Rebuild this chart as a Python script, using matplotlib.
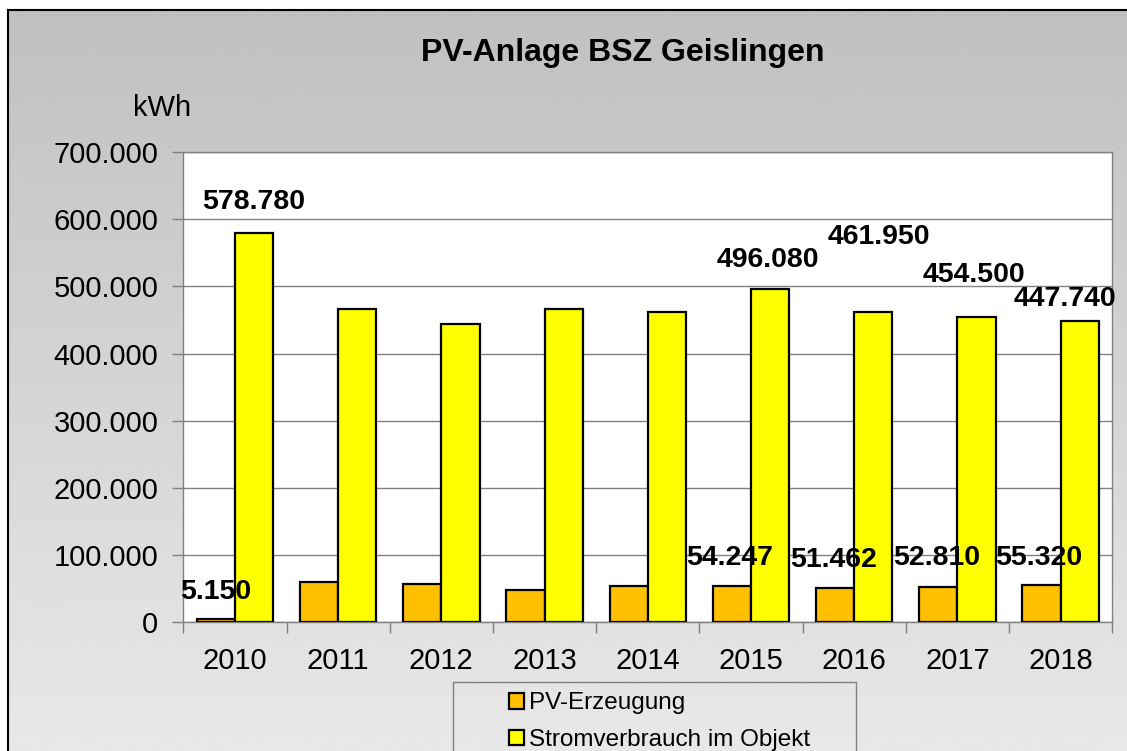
import numpy as np
import matplotlib
matplotlib.use("Agg")
import matplotlib.pyplot as plt
from matplotlib.patches import Patch, Rectangle
from matplotlib.ticker import FuncFormatter, FixedLocator

plt.rcParams["font.family"] = ["Liberation Sans", "DejaVu Sans"]

years = ["2010", "2011", "2012", "2013", "2014", "2015", "2016", "2017", "2018"]
pv_erzeugung = [5150, 60200, 56800, 47800, 53500, 54247, 51462, 52810, 55320]
stromverbrauch = [578780, 467000, 443500, 466000, 462500, 496080, 461950, 454500, 447740]
labeled_years = ["2010", "2015", "2016", "2017", "2018"]

W, H = 1127, 751
ORANGE = "#FFC000"
YELLOW = "#FFFF00"
GRID = "#808080"

# Beschriftungen: Versatz in Pixel (dx, dy über Balkenoberkante), wie im Original verschoben
pv_offsets = {"2010": (0, 27), "2015": (-2, 28), "2016": (-2, 28), "2017": (-2, 29), "2018": (-3, 27)}
sv_offsets = {"2010": (0, 31), "2015": (-2, 29), "2016": (6, 75), "2017": (-3, 42), "2018": (-15, 22)}

fig = plt.figure(figsize=(W / 100, H / 100), dpi=100)

# Hintergrund mit Verlauf
bg = fig.add_axes([0, 0, 1, 1], zorder=-5)
bg.set_xlim(0, W)
bg.set_ylim(H, 0)
bg.axis("off")
grad = np.linspace(192, 232, 256).reshape(-1, 1) / 255.0
bg.imshow(np.repeat(grad, 2, axis=1), cmap="gray", vmin=0, vmax=1, aspect="auto",
          extent=(8, W + 2, H + 2, 10), interpolation="bilinear")
bg.plot([8, 8], [H + 2, 10], color="black", lw=1.5)
bg.plot([8, W + 2], [10, 10], color="black", lw=1.5)

# Legendenrahmen (unten abgeschnitten)
bg.add_patch(Rectangle((453, 682), 856 - 453, 100, fill=False, edgecolor="#808080", lw=1))

ax = fig.add_axes([183.3 / W, 1 - 622.3 / H, (1112.3 - 183.3) / W, (622.3 - 152) / H])
ax.set_facecolor("white")

x = np.arange(len(years))
bw = 0.37
b1 = ax.bar(x - bw / 2, pv_erzeugung, bw, color=ORANGE, edgecolor="black", lw=1.6, zorder=3)
b2 = ax.bar(x + bw / 2, stromverbrauch, bw, color=YELLOW, edgecolor="black", lw=1.6, zorder=3)

ax.set_xlim(-0.5, len(years) - 0.5)
ax.set_ylim(0, 700000)
ax.set_yticks(np.arange(0, 700001, 100000))
ax.yaxis.set_major_formatter(FuncFormatter(lambda v, p: f"{v:,.0f}".replace(",", ".")))
ax.xaxis.set_major_locator(FixedLocator(np.arange(-0.5, len(years), 1.0)))
ax.xaxis.set_major_formatter(FuncFormatter(lambda v, p: ""))
ax.set_xticks(x, minor=True)
ax.set_xticklabels(years, minor=True)
ax.tick_params(axis="x", which="minor", length=0, labelsize=21, pad=18)
ax.tick_params(axis="x", which="major", length=8, width=1, color=GRID, direction="out")
ax.tick_params(axis="y", length=8, width=1, color=GRID, labelsize=21, pad=10)
ax.grid(axis="y", color=GRID, lw=1)
ax.set_axisbelow(True)
for s in ax.spines.values():
    s.set_color(GRID)
    s.set_linewidth(1)

for bars, vals, offs in [(b1, pv_erzeugung, pv_offsets), (b2, stromverbrauch, sv_offsets)]:
    for bar, year, v in zip(bars, years, vals):
        if year not in labeled_years:
            continue
        dx, dy = offs[year]
        ax.annotate(f"{v:,.0f}".replace(",", "."), (bar.get_x() + bar.get_width() / 2, v),
                    xytext=(dx * 0.72, dy * 0.72), textcoords="offset points",
                    ha="center", va="center", fontsize=20.5, fontweight="bold", zorder=5,
                    annotation_clip=False)

fig.text(623 / W, 1 - 53 / H, "PV-Anlage BSZ Geislingen", ha="center", va="center",
         fontsize=23, fontweight="bold")
fig.text(162 / W, 1 - 108 / H, "kWh", ha="center", va="center", fontsize=21)

handles = [Patch(facecolor=ORANGE, edgecolor="black", lw=1.6),
           Patch(facecolor=YELLOW, edgecolor="black", lw=1.6)]
fig.legend(handles, ["PV-Erzeugung", "Stromverbrauch im Objekt"], loc="upper left",
           bbox_to_anchor=(490 / W, 1 - 673 / H), frameon=False, fontsize=17.5,
           handlelength=0.6, handleheight=0.6, handletextpad=0.2, labelspacing=0.6,
           borderpad=0.3)

fig.savefig("out.png", dpi=100)
